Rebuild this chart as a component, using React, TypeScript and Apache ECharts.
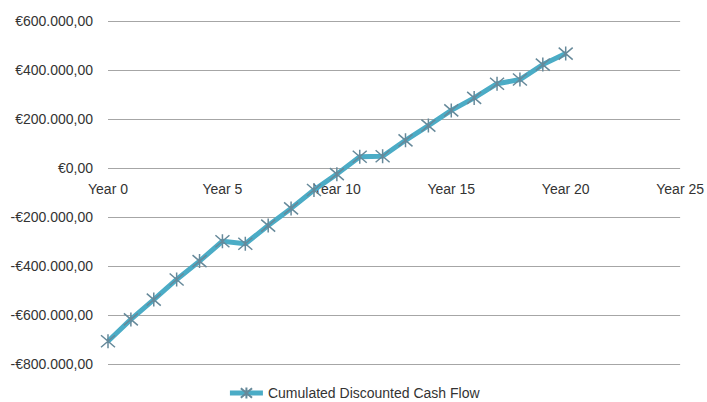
import React, { useEffect, useRef } from "react";
import * as echarts from "echarts";

const years = [0, 1, 2, 3, 4, 5, 6, 7, 8, 9, 10, 11, 12, 13, 14, 15, 16, 17, 18, 19, 20];
const cumulatedDCF = [
  -707000, -618000, -537000, -455000, -380000, -299000, -309000, -235000, -165000, -90000,
  -25000, 46000, 48000, 113000, 173000, 235000, 286000, 344000, 361000, 422000, 467000,
];
const seriesName = "Cumulated Discounted Cash Flow";
const xTicks = [0, 5, 10, 15, 20, 25];
const yTicks = [-800000, -600000, -400000, -200000, 0, 200000, 400000, 600000];

const FONT = "Liberation Sans";
const FS = 14;
const GRID = { left: 108, right: 25, top: 21, bottom: 38 };
const HEIGHT = 402;

function formatEuro(v: number): string {
  const abs = Math.abs(v);
  const s = Math.round(abs).toString().replace(/\B(?=(\d{3})+(?!\d))/g, ".");
  return (v < 0 ? "-" : "") + "€" + s + ",00";
}

export default function App() {
  const ref = useRef<HTMLDivElement>(null);
  useEffect(() => {
    if (!ref.current) return;
    const chart = echarts.init(ref.current, null, { renderer: "svg" });
    const data = years.map((y, i) => [y, cumulatedDCF[i]]);
    const yMin = yTicks[0];
    const yMax = yTicks[yTicks.length - 1];
    const plotH = HEIGHT - GRID.top - GRID.bottom;
    // place the category axis at the y = 0 crossing, as in the spreadsheet chart
    const xOffset = -(plotH * (0 - yMin)) / (yMax - yMin);
    chart.setOption({
      animation: false,
      backgroundColor: "#ffffff",
      textStyle: { fontFamily: FONT },
      grid: { ...GRID, containLabel: false },
      xAxis: {
        type: "value",
        min: xTicks[0],
        max: xTicks[xTicks.length - 1],
        interval: 5,
        offset: xOffset,
        axisLine: { show: false, onZero: false },
        axisTick: { show: false },
        splitLine: { show: false },
        axisLabel: {
          margin: 14,
          color: "#333333",
          fontSize: FS,
          fontFamily: FONT,
          formatter: (v: number) => "Year " + v,
        },
      },
      yAxis: {
        type: "value",
        min: yMin,
        max: yMax,
        interval: 200000,
        axisLine: { show: false },
        axisTick: { show: false },
        splitLine: { show: true, lineStyle: { color: "#a6a6a6", width: 1 } },
        axisLabel: {
          margin: 15,
          color: "#333333",
          fontSize: FS,
          fontFamily: FONT,
          formatter: (v: number) => formatEuro(v),
        },
      },
      legend: {
        top: 386,
        left: "center",
        padding: 0,
        itemWidth: 33,
        itemHeight: 14,
        lineStyle: { width: 5, color: "#4BACC6" },
        textStyle: { color: "#333333", fontSize: FS, fontFamily: FONT },
        data: [seriesName],
      },
      series: [
        {
          name: seriesName,
          type: "line",
          data,
          lineStyle: { color: "#4BACC6", width: 5 },
          symbol: "path://M7,0L7,14M1,1L13,13M1,13L13,1",
          symbolSize: 14,
          itemStyle: { color: "#4BACC6", borderColor: "#66899a", borderWidth: 1.5 },
          z: 3,
        },
      ],
    });
    return () => chart.dispose();
  }, []);
  return (
    <div
      ref={ref}
      style={{ position: "fixed", left: 0, top: 0, width: 707, height: 402 }}
    />
  );
}
